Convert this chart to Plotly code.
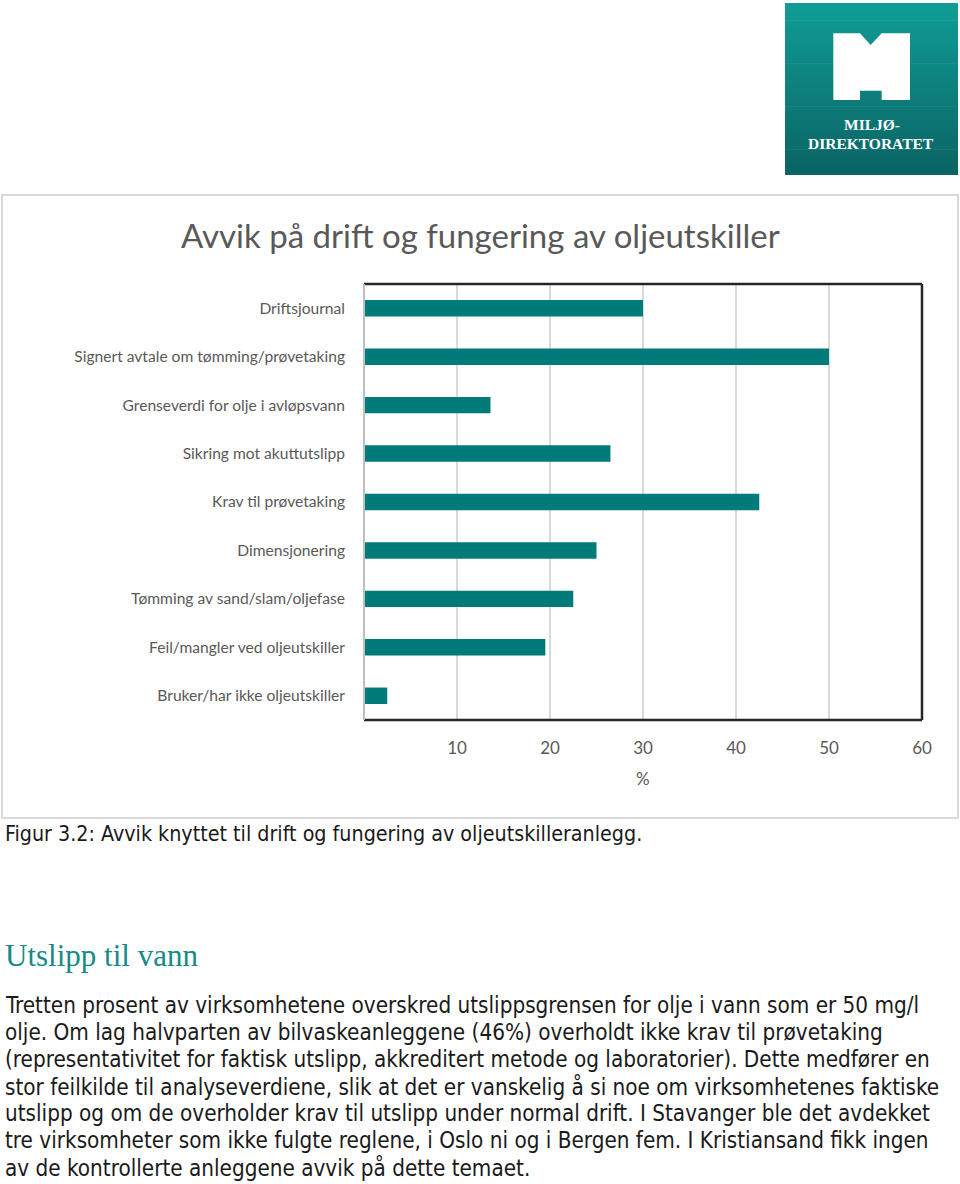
import plotly.graph_objects as go

categories = [
    "Driftsjournal",
    "Signert avtale om tømming/prøvetaking",
    "Grenseverdi for olje i avløpsvann",
    "Sikring mot akuttutslipp",
    "Krav til prøvetaking",
    "Dimensjonering",
    "Tømming av sand/slam/oljefase",
    "Feil/mangler ved oljeutskiller",
    "Bruker/har ikke oljeutskiller",
]
values = [30.0, 50.0, 13.6, 26.5, 42.5, 25.0, 22.5, 19.5, 2.5]
x_ticks = [10, 20, 30, 40, 50, 60]

title_text = "Avvik på drift og fungering av oljeutskiller"
caption_text = "Figur 3.2: Avvik knyttet til drift og fungering av oljeutskilleranlegg."
heading_text = "Utslipp til vann"
paragraph_lines = [
    "Tretten prosent av virksomhetene overskred utslippsgrensen for olje i vann som er 50 mg/l",
    "olje. Om lag halvparten av bilvaskeanleggene (46%) overholdt ikke krav til prøvetaking",
    "(representativitet for faktisk utslipp, akkreditert metode og laboratorier). Dette medfører en",
    "stor feilkilde til analyseverdiene, slik at det er vanskelig å si noe om virksomhetenes faktiske",
    "utslipp og om de overholder krav til utslipp under normal drift. I Stavanger ble det avdekket",
    "tre virksomheter som ikke fulgte reglene, i Oslo ni og i Bergen fem. I Kristiansand fikk ingen",
    "av de kontrollerte anleggene avvik på dette temaet.",
]

W, H = 960, 1184
L, R, T, B = 364, 922, 284, 720


def px(x):
    return (x - L) / (R - L)


def py(y):
    return (B - y) / (B - T)


CHART_FONT = "Lato, 'Open Sans', sans-serif"
BODY_FONT = "'DejaVu Sans Condensed', 'Liberation Sans Narrow', 'DejaVu Sans', sans-serif"
SERIF = "'Liberation Serif', 'DejaVu Serif', serif"
GRAY = "#595959"
TEAL = "#007b79"

fig = go.Figure()
fig.add_trace(go.Bar(
    x=values, y=categories, orientation="h",
    marker=dict(color=TEAL, line=dict(width=0)),
    width=0.34, hoverinfo="x+y",
))

shapes = []
annotations = []

# outer chart frame
shapes.append(dict(type="rect", xref="paper", yref="paper",
                   x0=px(2), x1=px(958), y0=py(195), y1=py(818),
                   line=dict(color="#d9d9d9", width=2), layer="below"))

# plot area borders
shapes.append(dict(type="line", xref="paper", yref="paper", x0=0, x1=1, y0=1, y1=1,
                   line=dict(color="#262626", width=2.5)))
shapes.append(dict(type="line", xref="paper", yref="paper", x0=1, x1=1, y0=0, y1=1,
                   line=dict(color="#262626", width=2.5)))
shapes.append(dict(type="line", xref="paper", yref="paper", x0=0, x1=1, y0=0, y1=0,
                   line=dict(color="#262626", width=2.5)))
shapes.append(dict(type="line", xref="paper", yref="paper", x0=0, x1=0, y0=0, y1=1,
                   line=dict(color="#bfbfbf", width=2)))

# logo gradient background
top_rgb = (16, 156, 150)
bot_rgb = (10, 100, 100)
ly0, ly1 = 3, 175
n = 40
for i in range(n):
    t = i / (n - 1)
    c = tuple(int(round(top_rgb[k] + (bot_rgb[k] - top_rgb[k]) * t)) for k in range(3))
    y_a = ly0 + (ly1 - ly0) * i / n
    y_b = ly0 + (ly1 - ly0) * (i + 1) / n + 0.6
    shapes.append(dict(type="rect", xref="paper", yref="paper",
                       x0=px(785), x1=px(958), y0=py(min(y_b, ly1)), y1=py(y_a),
                       fillcolor="rgb(%d,%d,%d)" % c, line=dict(width=0), layer="above"))

# M glyph
mpts = [(160, 100), (240, 100), (272, 135), (305, 100), (390, 100), (390, 300),
        (305, 300), (305, 272), (240, 272), (240, 300), (160, 300)]
path = ""
for i, (zx, zy) in enumerate(mpts):
    X = 780 + zx / 3
    Y = zy / 3
    path += ("M" if i == 0 else "L") + "%.4f,%.4f" % (px(X), py(Y))
path += "Z"
shapes.append(dict(type="path", xref="paper", yref="paper", path=path,
                   fillcolor="white", line=dict(width=0), layer="above"))

annotations.append(dict(xref="paper", yref="paper", x=px(872), y=py(124.5),
                        text="<b>MILJØ-</b>", showarrow=False,
                        font=dict(family=SERIF, size=15.5, color="white"),
                        xanchor="center", yanchor="middle"))
annotations.append(dict(xref="paper", yref="paper", x=px(871), y=py(143),
                        text="<b>DIREKTORATET</b>", showarrow=False,
                        font=dict(family=SERIF, size=15.5, color="white"),
                        xanchor="center", yanchor="middle"))

# chart title
annotations.append(dict(xref="paper", yref="paper", x=px(480), y=py(235),
                        text=title_text, showarrow=False,
                        font=dict(family=CHART_FONT, size=33, color=GRAY),
                        xanchor="center", yanchor="middle"))
# x axis title
annotations.append(dict(xref="paper", yref="paper", x=px(643), y=py(778),
                        text="%", showarrow=False,
                        font=dict(family=CHART_FONT, size=17, color=GRAY),
                        xanchor="center", yanchor="middle"))
# caption
annotations.append(dict(xref="paper", yref="paper", x=px(3), y=py(833),
                        text=caption_text, showarrow=False,
                        font=dict(family=BODY_FONT, size=21.3, color="#1a1a1a"),
                        xanchor="left", yanchor="middle"))
# heading
annotations.append(dict(xref="paper", yref="paper", x=px(3), y=py(955),
                        text=heading_text, showarrow=False,
                        font=dict(family=SERIF, size=31, color="#178a86"),
                        xanchor="left", yanchor="middle"))
# paragraph
for i, line in enumerate(paragraph_lines):
    annotations.append(dict(xref="paper", yref="paper", x=px(3), y=py(1005 + 27 * i),
                            text=line, showarrow=False,
                            font=dict(family=BODY_FONT, size=22.3, color="#1a1a1a"),
                            xanchor="left", yanchor="middle"))

fig.update_layout(
    width=W, height=H,
    margin=dict(l=L, r=W - R, t=T, b=H - B, pad=0),
    paper_bgcolor="white", plot_bgcolor="white",
    showlegend=False,
    shapes=shapes, annotations=annotations,
    xaxis=dict(range=[0, 60], tickvals=x_ticks, ticktext=[str(v) for v in x_ticks],
               showgrid=True, gridcolor="#d9d9d9", gridwidth=1.5, zeroline=False,
               showline=False, ticks="", ticklabelstandoff=16,
               tickfont=dict(family=CHART_FONT, size=17, color=GRAY)),
    yaxis=dict(type="category", categoryorder="array", categoryarray=categories,
               autorange=False, range=[8.5, -0.5],
               showgrid=False, zeroline=False, showline=False, ticks="",
               ticklabelstandoff=18,
               tickfont=dict(family=CHART_FONT, size=15.6, color=GRAY)),
    bargap=0.66,
)

fig.write_html("out.html")
